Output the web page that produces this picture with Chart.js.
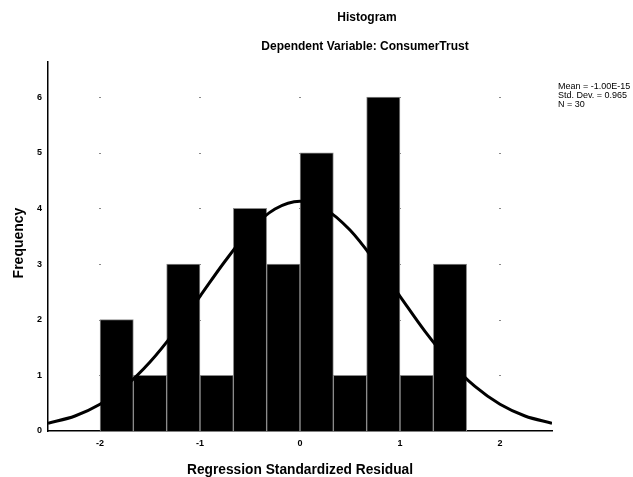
<!DOCTYPE html>
<html>
<head>
<meta charset="utf-8">
<title>Histogram</title>
<script src="https://cdn.jsdelivr.net/npm/chart.js@4.4.1/dist/chart.umd.min.js"></script>
<style>
	html, body { margin: 0; padding: 0; background: #fff; }
	#container { width: 633px; height: 477px; position: relative; }
</style>
</head>
<body>
<div id="container"><canvas id="histogram" width="633" height="477"></canvas></div>
<script>
// bin centres (width 1/3) and counts
var binCenters = [-1.833, -1.5, -1.167, -0.833, -0.5, -0.167, 0.167, 0.5, 0.833, 1.167, 1.5];
var binCounts = [2, 1, 3, 1, 4, 3, 5, 1, 6, 1, 3];

// normal curve
var curveX = [-2.52, -2.25, -2, -1.75, -1.5, -1.25, -1, -0.75, -0.5, -0.25, 0, 0.25, 0.5, 0.75, 1, 1.25, 1.5, 1.75, 2, 2.25, 2.52];
var curveY = [0.14, 0.27, 0.48, 0.8, 1.24, 1.79, 2.42, 3.05, 3.61, 3.99, 4.13, 3.99, 3.61, 3.05, 2.42, 1.79, 1.24, 0.8, 0.48, 0.27, 0.14];

var statsLines = ["Mean = -1.00E-15", "Std. Dev. = 0.965", "N = 30"];
var fontFamily = "'Liberation Sans', Arial, sans-serif";

function toPoints(xs, ys) {
	var points = [];
	for (var i = 0; i < xs.length; i++) {
		points.push({ x: xs[i], y: ys[i] });
	}
	return points;
}

// faint dots where the grid lines would cross
var gridDots = {
	id: "gridDots",
	beforeDatasetsDraw: function (chart) {
		var ctx = chart.ctx;
		var xScale = chart.scales.x;
		var yScale = chart.scales.y;
		ctx.save();
		ctx.fillStyle = "#888";
		xScale.ticks.forEach(function (xt) {
			yScale.ticks.forEach(function (yt) {
				if (yt.value === 0) return;
				var px = Math.round(xScale.getPixelForValue(xt.value));
				var py = Math.round(yScale.getPixelForValue(yt.value));
				ctx.fillRect(px - 1, py, 2, 1);
			});
		});
		ctx.restore();
	}
};

var chartTexts = {
	id: "chartTexts",
	afterDraw: function (chart) {
		var ctx = chart.ctx;
		ctx.save();
		ctx.fillStyle = "#000";
		ctx.textAlign = "center";
		ctx.textBaseline = "middle";
		ctx.font = "bold 12px " + fontFamily;
		ctx.fillText("Histogram", 367, 18);
		ctx.fillText("Dependent Variable: ConsumerTrust", 365, 47, 240);

		ctx.font = "bold 14px " + fontFamily;
		ctx.fillText("Regression Standardized Residual", 300, 470, 226);

		ctx.save();
		ctx.translate(19, 243);
		ctx.rotate(-Math.PI / 2);
		ctx.fillText("Frequency", 0, 0, 76);
		ctx.restore();

		ctx.textAlign = "left";
		ctx.font = "9px " + fontFamily;
		for (var i = 0; i < statsLines.length; i++) {
			ctx.fillText(statsLines[i], 558, 87 + i * 9);
		}
		ctx.restore();
	}
};

var ctx = document.getElementById("histogram");
var myChart = new Chart(ctx, {
	type: "bar",
	data: {
		datasets: [{
			type: "line",
			data: toPoints(curveX, curveY),
			borderColor: "#000",
			borderWidth: 3,
			pointRadius: 0,
			cubicInterpolationMode: "monotone",
			fill: false,
			order: 1
		}, {
			type: "bar",
			data: toPoints(binCenters, binCounts),
			backgroundColor: "#000",
			borderColor: "#8a8a8a",
			borderWidth: 1,
			borderSkipped: "bottom",
			barPercentage: 1,
			categoryPercentage: 1,
			order: 2
		}]
	},
	options: {
		responsive: false,
		animation: false,
		layout: { padding: { top: 62, right: 81, left: 0, bottom: 0 } },
		plugins: {
			legend: { display: false },
			title: { display: false },
			tooltip: { enabled: false }
		},
		scales: {
			x: {
				type: "linear",
				min: -2.52,
				max: 2.52,
				offset: false,
				grid: { display: false, drawTicks: false },
				border: { display: true, color: "#000", width: 1.5 },
				ticks: {
					stepSize: 1,
					includeBounds: false,
					padding: 7,
					color: "#000",
					font: { family: fontFamily, size: 9, weight: "bold" }
				},
				afterFit: function (scale) { scale.height = 46; }
			},
			y: {
				min: 0,
				max: 6.63,
				grid: { display: false, drawTicks: false },
				border: { display: true, color: "#000", width: 1.5 },
				ticks: {
					stepSize: 1,
					includeBounds: false,
					padding: 6,
					color: "#000",
					font: { family: fontFamily, size: 9, weight: "bold" }
				},
				afterFit: function (scale) { scale.width = 48; }
			}
		}
	},
	plugins: [gridDots, chartTexts]
});
</script>
</body>
</html>
